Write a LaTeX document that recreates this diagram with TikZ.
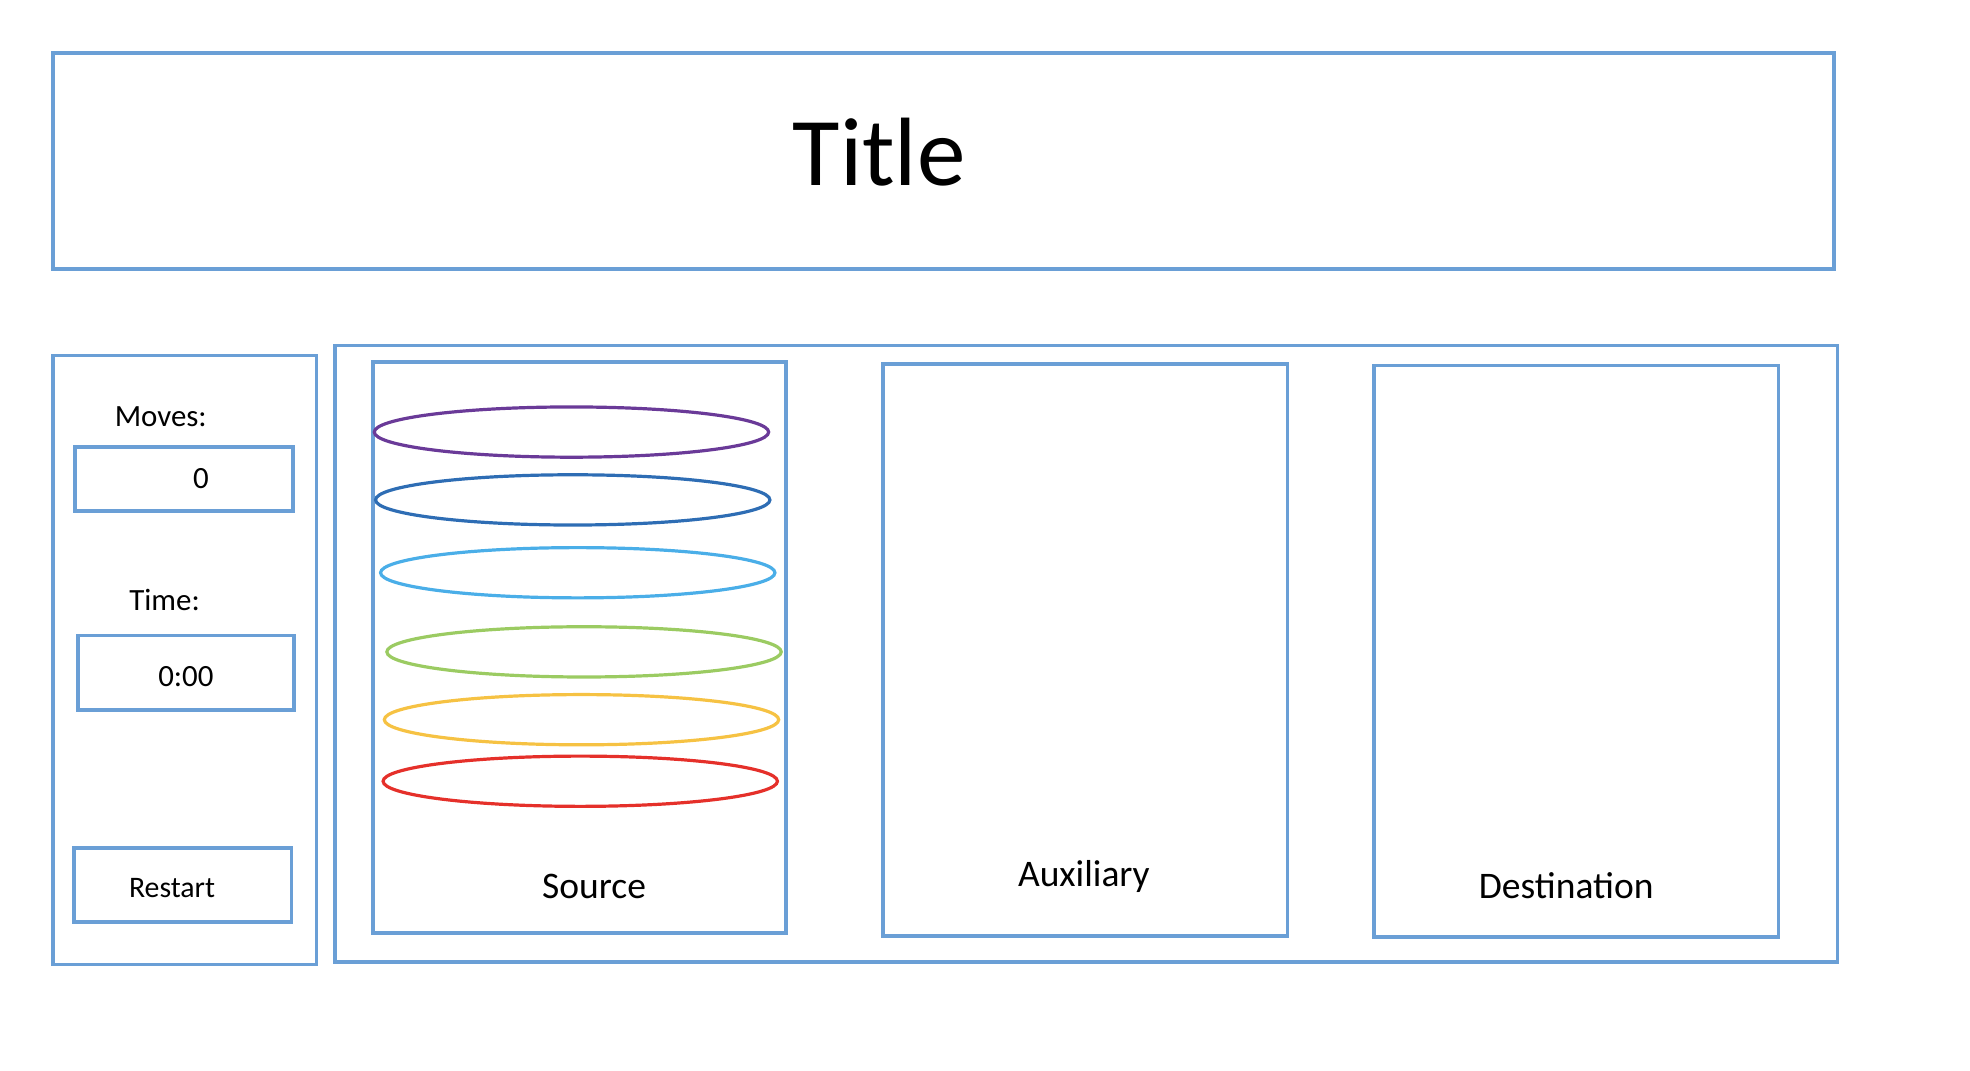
\documentclass[tikz,border=0pt]{standalone}
\usepackage{fontspec}
\setmainfont{Carlito}
\usepackage{tikz}
\definecolor{frameblue}{HTML}{6A9FD6}
\definecolor{discpurple}{HTML}{6A3A98}
\definecolor{discblue}{HTML}{2E6DB4}
\definecolor{disclight}{HTML}{4AAEE8}
\definecolor{discgreen}{HTML}{9BCB62}
\definecolor{discyellow}{HTML}{F6C243}
\definecolor{discred}{HTML}{E5302A}
\tikzset{
  frame/.style = {draw=frameblue, line width=1.7pt, rectangle, inner sep=0pt},
  label/.style = {align=center, inner sep=0pt, font=\fontsize{14}{16}\selectfont},
  peglabel/.style = {align=center, inner sep=0pt, font=\fontsize{17}{20}\selectfont},
  disc/.style = {line width=1.45pt}
}

\begin{document}
\begin{tikzpicture}[x=0.2mm, y=-0.2mm]
\useasboundingbox (0,0) rectangle (1568.5,852);
% header
\node [frame, minimum width=283.6mm, minimum height=34.4mm] (head) at (751,128) {};
\node [inner sep=0pt, font=\fontsize{44}{48}\selectfont] (title) at (700,121) {Title};
% left panel
\node [frame, minimum width=42mm, minimum height=97mm] (side) at (147,525.5) {};
\node [label] (moveslbl) at (128,332) {Moves:};
\node [frame, minimum width=34.6mm, minimum height=10.2mm] (movesbox) at (146.5,381.5) {};
\node [label] (movesval) at (160,381) {0};
\node [label] (timelbl) at (131,478) {Time:};
\node [frame, minimum width=34.4mm, minimum height=11.8mm] (timebox) at (148,535.5) {};
\node [label] (timeval) at (148,539) {0:00};
\node [frame, minimum width=34.6mm, minimum height=11.8mm] (restart) at (145.5,704.5) {};
\node [label, font=\fontsize{13.5}{16}\selectfont] (restartlbl) at (137,707) {Restart};
% board with the three pegs
\node [frame, minimum width=239.2mm, minimum height=98.2mm] (board) at (865,520.5) {};
\node [frame, minimum width=65.8mm, minimum height=91mm] (source) at (461.5,515.5) {};
\node [frame, minimum width=64.4mm, minimum height=91mm] (aux) at (864,517.5) {};
\node [frame, minimum width=64.4mm, minimum height=91mm] (dest) at (1255,518.5) {};
\node [peglabel] (sourcelbl) at (473,706) {Source};
\node [peglabel] (auxlbl) at (863,698) {Auxiliary};
\node [peglabel] (destlbl) at (1247,705) {Destination};
% discs
\draw [disc, discpurple] (455,344) ellipse [x radius=157, y radius=20];
\draw [disc, discblue] (456,398) ellipse [x radius=157, y radius=20];
\draw [disc, disclight] (460,456) ellipse [x radius=157, y radius=20];
\draw [disc, discgreen] (465,519) ellipse [x radius=157, y radius=20];
\draw [disc, discyellow] (463,573) ellipse [x radius=157, y radius=20];
\draw [disc, discred] (462,622) ellipse [x radius=157, y radius=20];
\end{tikzpicture}
\end{document}
